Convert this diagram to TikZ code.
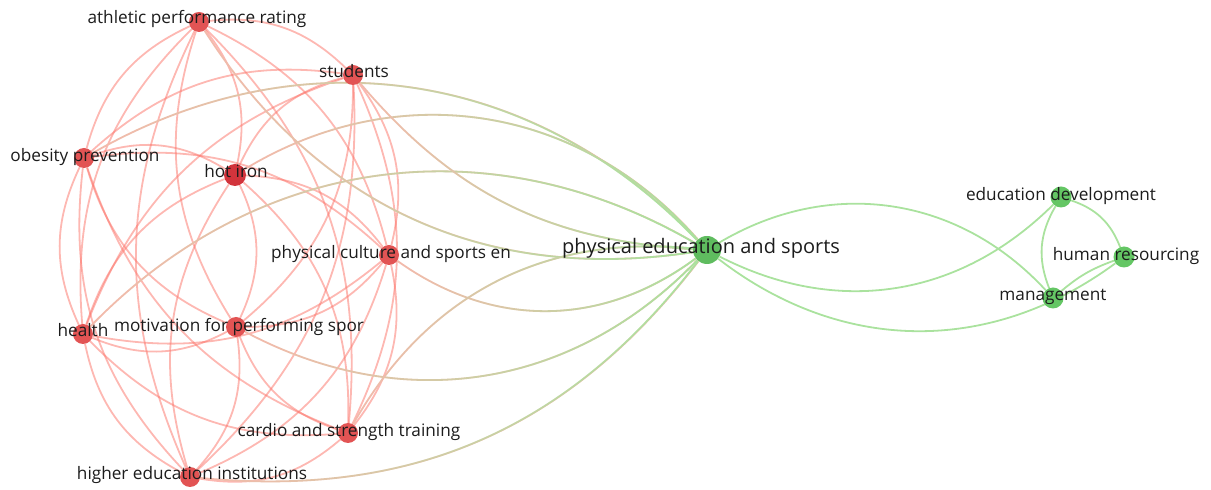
\documentclass[tikz,border=0pt]{standalone}
\usepackage{fontspec}
\setmainfont{Open Sans}
\usetikzlibrary{positioning,fadings}
\pgfdeclarelayer{background}
\pgfsetlayers{background,main}
\definecolor{kwred}{RGB}{226,84,84}
\definecolor{kwdark}{RGB}{210,52,60}
\definecolor{kwgreen}{RGB}{100,198,100}
\definecolor{linkred}{RGB}{252,118,108}
\definecolor{linkgreen}{RGB}{170,226,158}
\definecolor{linkpink}{RGB}{244,186,172}
\definecolor{lbltext}{RGB}{28,28,28}
\tikzfading[name=fade in east, left color=transparent!100, right color=transparent!0]
\tikzset{
  kw/.style={circle,fill=kwred,draw=none,minimum size=20pt,inner sep=0pt},
  kwhot/.style={kw,fill=kwdark,minimum size=22pt},
  kwgr/.style={kw,fill=kwgreen,minimum size=21pt},
  kwhub/.style={kw,fill=kwgreen!95!black,minimum size=28pt},
  lbl/.style={inner sep=0pt,text=lbltext,font=\fontsize{17.2}{20}\selectfont,
    text height=12.5pt,text depth=4pt},
  lblhub/.style={lbl,font=\fontsize{20}{24}\selectfont,text height=14.5pt,text depth=4.5pt},
  redlink/.style={draw=linkred,line width=1.8pt,draw opacity=0.52},
  mixlink/.style={draw=linkpink,line width=1.8pt,
    postaction={draw=linkgreen,line width=1.8pt,path fading=fade in east,fit fading=true}},
  greenlink/.style={draw=linkgreen,line width=1.8pt}
}
\begin{document}
\begin{tikzpicture}[x=1pt,y=1pt]
\useasboundingbox (0,0) rectangle (1211,490);
% keywords, red cluster
\node[kw] (ath) at (199,468) {};
\node[kw] (stu) at (353,415) {};
\node[kw] (obe) at (84,332) {};
\node[kwhot] (hot) at (235,315) {};
\node[kw] (pcs) at (389,235) {};
\node[kw] (hea) at (83,156) {};
\node[kw] (mot) at (236,163) {};
\node[kw] (car) at (348,57) {};
\node[kw] (hei) at (190,13) {};
% keywords, green cluster
\node[kwhub] (pes) at (707,240) {};
\node[kwgr] (edd) at (1061,293) {};
\node[kwgr] (hum) at (1124,233) {};
\node[kwgr] (man) at (1053,192) {};
% labels
\node[lbl] (ath-t) at (197,471) {athletic performance rating};
\node[lbl] (stu-t) at (354,417) {students};
\node[lbl] (obe-t) at (85,333) {obesity prevention};
\node[lbl] (hot-t) at (236,317) {hot iron};
\node[lbl] (pcs-t) at (391,236) {physical culture and sports en};
\node[lbl] (hea-t) at (83,158) {health};
\node[lbl] (mot-t) at (239,163) {motivation for performing spor};
\node[lbl] (car-t) at (349,58) {cardio and strength training};
\node[lbl] (hei-t) at (192,15) {higher education institutions};
\node[lblhub] (pes-t) at (701,241) {physical education and sports};
\node[lbl] (edd-t) at (1061,294) {education development};
\node[lbl] (hum-t) at (1126,234) {human resourcing};
\node[lbl] (man-t) at (1053,194) {management};
\begin{pgfonlayer}{background}
\path[redlink]
  (car) edge[bend left=25] (mot)
  (car) edge[bend left=25] (hei)
  (car) edge[bend left=25] (hea)
  (car) edge[bend left=25] (obe)
  (ath) edge[bend left=25] (car)
  (hot) edge[bend left=25] (car)
  (stu) edge[bend left=25] (car)
  (pcs) edge[bend left=25] (car)
  (mot) edge[bend left=25] (hei)
  (mot) edge[bend left=25] (hea)
  (mot) edge[bend left=25] (obe)
  (mot) edge[bend left=25] (ath)
  (hot) edge[bend left=25] (mot)
  (stu) edge[bend left=25] (mot)
  (pcs) edge[bend left=25] (mot)
  (hei) edge[bend left=25] (hea)
  (hei) edge[bend left=25] (obe)
  (hei) edge[bend left=25] (ath)
  (hei) edge[bend left=25] (hot)
  (stu) edge[bend left=25] (hei)
  (pcs) edge[bend left=25] (hei)
  (hea) edge[bend left=25] (obe)
  (hea) edge[bend left=25] (ath)
  (hea) edge[bend left=25] (hot)
  (hea) edge[bend left=25] (stu)
  (pcs) edge[bend left=25] (hea)
  (obe) edge[bend left=25] (ath)
  (obe) edge[bend left=25] (hot)
  (obe) edge[bend left=25] (stu)
  (obe) edge[bend left=25] (pcs)
  (ath) edge[bend left=25] (hot)
  (ath) edge[bend left=25] (stu)
  (ath) edge[bend left=25] (pcs)
  (hot) edge[bend left=25] (stu)
  (hot) edge[bend left=25] (pcs)
  (stu) edge[bend left=25] (pcs);
% links between the two clusters
\draw[mixlink] (obe) to[bend left=38] (pes);
\draw[mixlink] (hot) to[bend left=40] (pes);
\draw[mixlink] (hea) to[bend left=38] (pes);
\draw[mixlink] (ath) to[bend right=33] (pes);
\draw[mixlink] (stu) to[bend right=23] (pes);
\draw[mixlink] (pcs) to[bend right=36] (pes);
\draw[mixlink] (mot) to[bend right=37] (pes);
\draw[mixlink] (car) to[bend left=33] (pes);
\draw[mixlink] (hei) to[bend right=29] (pes);
\path[greenlink]
  (pes) edge[bend left=39] (man)
  (pes) edge[bend right=36] (edd)
  (pes) edge[bend right=37] (hum)
  (edd) edge[bend right=26] (man)
  (edd) edge[bend left=25] (hum)
  (man) edge[bend left=10] (hum);
\end{pgfonlayer}
\end{tikzpicture}
\end{document}
